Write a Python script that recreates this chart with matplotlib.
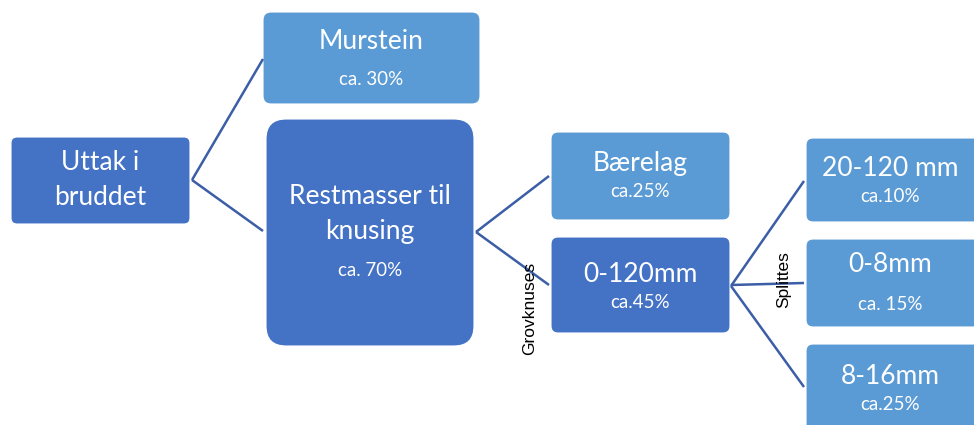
import matplotlib
matplotlib.use("Agg")
import matplotlib.pyplot as plt
from matplotlib.patches import FancyBboxPatch

# node texts
titles = ["Uttak i\nbruddet", "Murstein", "Restmasser til\nknusing", "Bærelag",
          "0-120mm", "20-120 mm", "0-8mm", "8-16mm"]
shares = ["", "ca. 30%", "ca. 70%", "ca.25%", "ca.45%", "ca.10%", "ca. 15%", "ca.25%"]
edge_labels = ["Grovknuses", "Splittes"]

DARK = "#4472C4"
LIGHT = "#5B9BD5"
LINE = "#3B5EA6"

# box layout: x0, y0, x1, y1 (pixels, y down), colour, title y, share y, round
boxes = [
    (11, 137, 190, 224, DARK, 180, None, 6),
    (263, 12, 480, 104, LIGHT, 41, 79, 8),
    (266, 119, 474, 346, DARK, 214, 270, 20),
    (551, 132, 730, 220, LIGHT, 164, 191, 7),
    (551, 237, 730, 333, DARK, 274, 303, 7),
    (806, 138, 990, 222, LIGHT, 168, 196, 7),
    (806, 239, 990, 327, LIGHT, 265, 305, 7),
    (806, 344, 990, 440, LIGHT, 376, 405, 7),
]

links = [
    ((192, 180), (263, 59)), ((192, 180), (263, 231)),
    ((476, 232), (549, 176)), ((476, 232), (549, 285)),
    ((731, 286), (804, 181)), ((731, 285), (804, 283)), ((731, 286), (804, 387)),
]

fig = plt.figure(figsize=(9.74, 4.25), dpi=100)
ax = fig.add_axes([0, 0, 1, 1])
ax.set_xlim(0, 974)
ax.set_ylim(425, 0)
ax.axis("off")

font = "Lato"

for (x0, y0, x1, y1, col, ty, sy, r), t, s in zip(boxes, titles, shares):
    ax.add_patch(FancyBboxPatch((x0 + r, y0 + r), x1 - x0 - 2 * r, y1 - y0 - 2 * r,
                                boxstyle=f"round,pad={r}", fc=col, ec="white", lw=0.8))
    cx = (x0 + x1) / 2 if x1 < 974 else (x0 + 974) / 2
    ax.text(cx, ty, t, color="white", fontsize=19, family=font,
            ha="center", va="center", linespacing=1.5)
    if sy is not None:
        ax.text(cx, sy, s, color="white", fontsize=13.5, family=font,
                ha="center", va="center")

for (a, b) in links:
    ax.plot([a[0], b[0]], [a[1], b[1]], color=LINE, lw=1.8, solid_capstyle="butt")

ax.text(530, 308, edge_labels[0], rotation=90, fontsize=12.5, family="Liberation Sans",
        ha="center", va="center", color="black")
ax.text(784, 280, edge_labels[1], rotation=90, fontsize=12.5, family="Liberation Sans",
        ha="center", va="center", color="black")

fig.savefig("out.png", dpi=100)
